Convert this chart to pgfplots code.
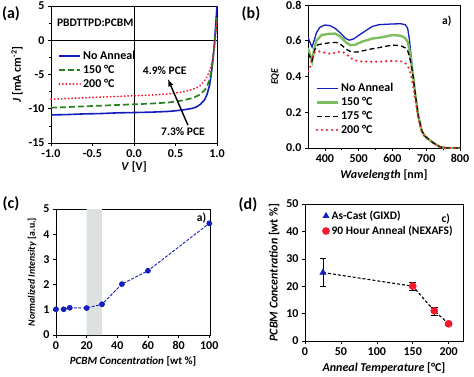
\documentclass[border=0pt]{standalone}
\usepackage{fontspec}
\setmainfont{Carlito}
\usepackage{pgfplots}
\pgfplotsset{compat=1.18}
\definecolor{cblue}{RGB}{20,30,190}
\definecolor{cgreen}{RGB}{40,130,30}
\definecolor{lgreen}{RGB}{125,190,95}
\definecolor{cred}{RGB}{245,25,45}
\definecolor{band}{RGB}{222,226,222}
\pgfplotsset{
  panel/.style={
    scale only axis, anchor=south west,
    /pgf/number format/assume math mode=true,
    tick label style={font=\fontsize{12}{13}\selectfont\bfseries},
    label style={font=\fontsize{12}{13}\selectfont\bfseries},
    tick align=outside, tick pos=left,
    major tick length=3pt, minor tick length=2pt,
    axis line style={line width=0.8pt},
    every tick/.style={black, line width=0.6pt},
    legend cell align=left,
  },
  linelegend/.style={legend image code/.code={\draw[##1] (0pt,0pt) -- (21pt,0pt);}},
}
\begin{document}
\begin{tikzpicture}
\useasboundingbox (0pt,0pt) rectangle (474pt,376pt);
% panel labels
\node[font=\fontsize{16}{18}\selectfont\bfseries] at (11pt,362pt) {(a)};
\node[font=\fontsize{16}{18}\selectfont\bfseries] at (251pt,362pt) {(b)};
\node[font=\fontsize{16}{18}\selectfont\bfseries] at (11pt,172pt) {(c)};
\node[font=\fontsize{16}{18}\selectfont\bfseries] at (248pt,171pt) {(d)};

% ---------- (a)
\begin{axis}[panel, linelegend, at={(51pt,233pt)}, width=166pt, height=137pt,
  xmin=-1, xmax=1, ymin=-15, ymax=5,
  xtick={-1,-0.5,0,0.5,1}, ytick={-15,-10,-5,0,5}, minor y tick num=1,
  xticklabel style={/pgf/number format/.cd, fixed, fixed zerofill, precision=1},
  xlabel={\textit{V} [V]}, ylabel={\textit{J} [mA cm\textsuperscript{-2}]},
  xlabel style={yshift=3pt}, ylabel style={yshift=-1pt},
  legend style={at={(0.025,0.70)}, anchor=north west, draw=none, fill=none,
    font=\fontsize{12}{13}\selectfont\bfseries, row sep=0pt},
  clip=false]
\addplot[black, line width=0.8pt, forget plot] coordinates {(-1,0)(1,0)};
\addplot[black, line width=0.8pt, forget plot] coordinates {(0,-15)(0,5)};
\addplot[cblue, line width=1.6pt] coordinates {(-1,-10.9)(-0.8,-10.85)(-0.6,-10.75)(-0.4,-10.7)(-0.2,-10.6)(0,-10.55)(0.2,-10.5)(0.4,-10.4)(0.5,-10.3)(0.6,-10.15)(0.7,-9.95)(0.75,-9.75)(0.8,-9.35)(0.85,-8.7)(0.88,-7.9)(0.91,-6.6)(0.93,-5.0)(0.95,-3.0)(0.97,-0.3)(0.985,2.3)(1.0,5)};
\addlegendentry{No Anneal}
\addplot[cgreen, line width=1.7pt, dash pattern=on 6pt off 3pt] coordinates {(-1,-9.85)(-0.8,-9.75)(-0.6,-9.65)(-0.4,-9.55)(-0.2,-9.45)(0,-9.35)(0.2,-9.25)(0.4,-9.1)(0.5,-8.95)(0.6,-8.75)(0.7,-8.45)(0.75,-8.2)(0.8,-7.9)(0.85,-7.3)(0.88,-6.7)(0.91,-5.8)(0.93,-4.6)(0.95,-2.8)(0.97,-0.6)(0.99,2.0)(1.0,3.3)};
\addlegendentry{150 °C}
\addplot[cred, line width=1.8pt, line cap=round, dash pattern=on 0.3pt off 3.2pt] coordinates {(-1,-8.6)(-0.8,-8.5)(-0.6,-8.4)(-0.4,-8.3)(-0.2,-8.2)(0,-8.1)(0.2,-8.0)(0.4,-7.85)(0.5,-7.7)(0.6,-7.5)(0.7,-7.2)(0.75,-6.95)(0.8,-6.6)(0.85,-5.9)(0.88,-5.3)(0.91,-4.5)(0.93,-3.7)(0.95,-2.6)(0.97,-1.0)(0.99,1.5)(1.0,3.0)};
\addlegendentry{200 °C}
\node[anchor=west, font=\fontsize{11.5}{13}\selectfont\bfseries] at (axis cs:-0.97,2.5) {PBDTTPD:PCBM};
\node[font=\fontsize{11.5}{13}\selectfont\bfseries] at (axis cs:0.37,-4.5) {4.9\% PCE};
\node[font=\fontsize{11.5}{13}\selectfont\bfseries] at (axis cs:0.59,-13.4) {7.3\% PCE};
\draw[-latex, line width=1.4pt] (axis cs:0.65,-12.4) -- (axis cs:0.41,-5.7);
\end{axis}

% ---------- (b)
\begin{axis}[panel, linelegend, at={(308pt,228pt)}, width=152pt, height=143pt,
  xmin=350, xmax=800, ymin=0, ymax=0.8,
  xtick={400,500,600,700,800}, minor x tick num=1,
  ytick={0,0.2,0.4,0.6,0.8},
  yticklabel style={/pgf/number format/.cd, fixed, fixed zerofill, precision=1},
  xlabel={\textit{Wavelength} [nm]}, ylabel={\textit{EQE}},
  ylabel style={font=\fontsize{10}{11}\selectfont\bfseries},
  legend style={at={(0.03,0.48)}, anchor=north west, draw=none, fill=none,
    font=\fontsize{12}{13}\selectfont\bfseries, row sep=0pt}]
\addplot[cblue, line width=1.3pt] coordinates {(350,0.62)(356,0.59)(362,0.565)(368,0.6)(375,0.645)(385,0.675)(400,0.688)(415,0.685)(430,0.67)(445,0.645)(460,0.615)(472,0.603)(485,0.61)(500,0.63)(520,0.655)(540,0.68)(560,0.69)(600,0.694)(625,0.695)(638,0.69)(645,0.67)(650,0.61)(655,0.52)(660,0.43)(667,0.31)(676,0.185)(687,0.095)(697,0.065)(710,0.045)(720,0.03)(741,0.006)(760,0)(800,0)};
\addlegendentry{No Anneal}
\addplot[lgreen, line width=2.4pt] coordinates {(350,0.56)(356,0.52)(362,0.485)(368,0.55)(375,0.6)(390,0.632)(410,0.638)(430,0.64)(445,0.625)(460,0.595)(475,0.575)(490,0.578)(510,0.595)(540,0.612)(570,0.62)(600,0.632)(625,0.628)(638,0.615)(646,0.59)(652,0.53)(657,0.46)(662,0.39)(667,0.31)(676,0.185)(687,0.095)(697,0.065)(710,0.045)(720,0.03)(741,0.006)(760,0)(800,0)};
\addlegendentry{150 °C}
\addplot[black, line width=1.3pt, dash pattern=on 5pt off 3pt] coordinates {(350,0.53)(356,0.51)(362,0.49)(370,0.55)(380,0.578)(400,0.585)(420,0.59)(435,0.59)(450,0.575)(465,0.55)(480,0.537)(495,0.537)(515,0.545)(540,0.555)(570,0.565)(600,0.576)(625,0.572)(638,0.56)(646,0.54)(652,0.5)(657,0.45)(662,0.39)(667,0.31)(676,0.185)(687,0.095)(697,0.065)(710,0.045)(720,0.03)(741,0.006)(760,0)(800,0)};
\addlegendentry{175 °C}
\addplot[cred, line width=2.4pt, line cap=round, dash pattern=on 0pt off 5pt] coordinates {(350,0.43)(356,0.45)(362,0.5)(370,0.535)(380,0.542)(395,0.535)(410,0.528)(425,0.53)(440,0.538)(455,0.535)(470,0.515)(485,0.492)(500,0.485)(530,0.483)(560,0.483)(600,0.487)(625,0.485)(638,0.475)(646,0.455)(652,0.43)(657,0.39)(662,0.34)(667,0.28)(676,0.17)(687,0.085)(697,0.06)(720,0.028)(741,0.005)(760,0)(780,0)(800,0)};
\addlegendentry{200 °C}
\node[font=\fontsize{11.5}{13}\selectfont\bfseries] at (axis cs:761,0.71) {a)};
\end{axis}

% ---------- (c)
\begin{axis}[panel, at={(56pt,41pt)}, width=154pt, height=126pt,
  xmin=0, xmax=100.5, ymin=0, ymax=5,
  xtick={0,20,40,60,80,100}, ytick={0,1,2,3,4,5},
  xlabel={\textit{PCBM Concentration} [wt \%]}, ylabel={\textit{Normalized Intensity} [a.u.]},
  xlabel style={font=\fontsize{11}{12}\selectfont\bfseries},
  ylabel style={font=\fontsize{9.8}{11}\selectfont\bfseries},
  clip=false]
\addplot[band, fill=band, draw=none, forget plot] coordinates {(20,0)(30,0)(30,5)(20,5)} \closedcycle;
\addplot[cblue, line width=0.9pt, dash pattern=on 3pt off 1.5pt, mark=*, mark size=2.4pt, mark options={solid}] coordinates {(0,1.02)(5,1.02)(9,1.08)(20,1.07)(30,1.22)(43,2.02)(60,2.55)(100,4.43)};
\node[font=\fontsize{11.5}{13}\selectfont\bfseries] at (axis cs:95,4.64) {a)};
\end{axis}

% ---------- (d)
\begin{axis}[panel, at={(305pt,35pt)}, width=158pt, height=137pt,
  xmin=0, xmax=220, ymin=0, ymax=50,
  xtick={0,50,100,150,200}, ytick={0,10,20,30,40,50},
  xlabel={\textit{Anneal Temperature} [°C]}, ylabel={\textit{PCBM Concentration} [wt \%]},
  legend style={at={(0.09,0.98)}, anchor=north west, draw=none, fill=none,
    font=\fontsize{11.5}{13}\selectfont\bfseries, row sep=1pt},
  clip=false]
\addplot[black, line width=1.1pt, dash pattern=on 3pt off 2pt, forget plot] coordinates {(25,25)(150,20)(180,11)(200,6.3)};
\addplot[only marks, mark=triangle*, mark size=3.6pt, color=cblue,
  error bars/.cd, y dir=both, y explicit, error mark options={rotate=90, mark size=3pt, line width=0.8pt}, error bar style={line width=0.8pt, black}]
  coordinates {(25,25) +- (0,5)};
\addlegendentry{As-Cast (GIXD)}
\addplot[only marks, mark=*, mark size=3.6pt, color=cred,
  error bars/.cd, y dir=both, y explicit, error bar style={line width=0.8pt, black}]
  coordinates {(150,20) +- (0,1.5) (180,11) +- (0,1.5) (200,6.3) +- (0,0.5)};
\addlegendentry{90 Hour Anneal (NEXAFS)}
\node[font=\fontsize{11.5}{13}\selectfont\bfseries] at (axis cs:196,44.5) {c)};
\end{axis}
\end{tikzpicture}
\end{document}
